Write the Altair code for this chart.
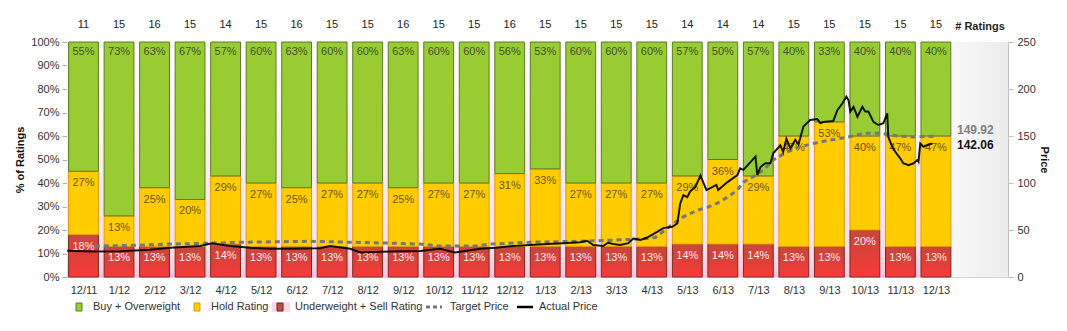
import altair as alt
import pandas as pd

# ---------------- data ----------------
months = ["12/11", "1/12", "2/12", "3/12", "4/12", "5/12", "6/12", "7/12", "8/12", "9/12",
          "10/12", "11/12", "12/12", "1/13", "2/13", "3/13", "4/13", "5/13", "6/13", "7/13",
          "8/13", "9/13", "10/13", "11/13", "12/13"]
n_ratings = [11, 15, 16, 15, 14, 15, 16, 15, 15, 16, 15, 15, 16, 15, 15, 15, 15, 14, 14, 14, 15, 15, 15, 15, 15]
buy_pct = [55, 73, 63, 67, 57, 60, 63, 60, 60, 63, 60, 60, 56, 53, 60, 60, 60, 57, 50, 57, 40, 33, 40, 40, 40]
hold_pct = [27, 13, 25, 20, 29, 27, 25, 27, 27, 25, 27, 27, 31, 33, 27, 27, 27, 29, 36, 29, 47, 53, 40, 47, 47]
sell_pct = [18, 13, 13, 13, 14, 13, 13, 13, 13, 13, 13, 13, 13, 13, 13, 13, 13, 14, 14, 14, 13, 13, 20, 13, 13]

# price series: position in months (0 = 12/11) and price
target_t = [0.32, 1.31, 2.44, 3.56, 4.41, 5.54, 6.38, 7.51, 8.63, 9.48, 10.04, 11.03, 11.45, 12.58,
            13.99, 15.11, 15.68, 16.10, 16.58, 16.89, 17.28, 17.56, 17.93, 18.21, 18.41, 18.58,
            18.86, 19.14, 19.42, 19.81, 20.18, 20.55, 21.03, 21.50, 21.96, 22.44, 22.93, 23.37, 24.04]
target_p = [33, 33.5, 35, 36, 37, 37.5, 38, 37, 36, 35, 33, 33, 35, 37,
            38, 39.5, 40.5, 42, 56, 64, 71, 74, 80, 87, 92.5, 101,
            106.7, 113.8, 124.5, 133, 138.6, 142, 145.7, 148.6, 152.8, 152.8, 150, 149, 149.92]

actual_t = [-0.46, 0.27, 1.03, 1.87, 2.44, 3.28, 3.62, 4.13, 4.69, 5.25, 5.82, 6.66, 6.94, 7.51,
            7.79, 8.63, 9.48, 10.04, 10.46, 11.17, 11.62, 12.10, 12.58, 13.06, 13.51, 13.99,
            14.18, 14.35, 14.63, 14.77, 14.92, 15.11, 15.34, 15.48, 15.68, 15.87, 16.15, 16.32,
            16.58, 16.72, 16.80, 16.89, 17.00, 17.08, 17.23, 17.37, 17.54, 17.82, 17.87, 18.13,
            18.41, 18.49, 18.58, 18.92, 18.97, 19.06, 19.20, 19.34, 19.42, 19.62, 19.70, 19.79,
            19.90, 20.04, 20.13, 20.27, 20.46, 20.66, 20.75, 20.83, 21.11, 21.23, 21.37, 21.48,
            21.54, 21.59, 21.68, 21.79, 21.93, 22.01, 22.10, 22.24, 22.38, 22.52, 22.63, 22.66,
            22.77, 22.86, 23.00, 23.08, 23.23, 23.37, 23.48, 23.51, 23.56, 23.65, 23.76, 23.90]
actual_p = [28, 27, 27.5, 29, 31, 33, 36, 33, 31, 30, 30, 30.5, 33, 30,
            26, 27, 27.7, 30, 26, 30, 31, 33, 34, 35, 36, 37,
            38.6, 34, 33, 36.5, 35, 34, 36, 41, 39.5, 42, 48, 52,
            53.5, 57, 78, 87, 85, 91, 96, 108, 92.5, 98, 92.5, 101,
            108.5, 115.6, 114, 128, 108.5, 117, 121, 121, 131.6, 140, 133, 147,
            137, 146, 141, 160, 167, 168, 163.5, 165, 166, 177.7, 184.8, 191.8,
            188, 176, 181, 170.5, 181, 176, 176, 165, 161.7, 163.5, 174, 149,
            138.6, 133, 126, 121, 119, 121, 124.5, 122.7, 142, 138.6, 140.4, 142.06]

last_target = "149.92"
last_actual = "142.06"

# ---------------- layout constants ----------------
W, H = 941, 235
X_DOM = [-0.465, 26.03]
HALF = 0.42
FONT = "Liberation Sans"

xs = alt.Scale(domain=X_DOM, nice=False, zero=False)
ys = alt.Scale(domain=[0, 100], nice=False)
ps = alt.Scale(domain=[0, 250], nice=False)

lab_expr = "[" + ",".join(f"'{m}'" for m in months) + "][datum.value]"

X_AXIS = alt.Axis(
    values=list(range(len(months))), labelExpr=lab_expr, title=None, ticks=False,
    domainColor="#f6c2dc", domainWidth=1, labelFont=FONT, labelFontSize=11,
    labelColor="#333333", labelPadding=7, grid=False, labelFlush=False, labelOverlap=False)
Y_AXIS = alt.Axis(
    values=list(range(0, 101, 10)), labelExpr="datum.value + '%'", domain=False,
    tickColor="#b0b0b0", tickSize=5, labelPadding=3, grid=False, labelFont=FONT,
    labelFontSize=11, labelColor="#333333", title="% of Ratings", titleFont=FONT,
    titleFontSize=11, titleFontWeight="bold", titleColor="#111111", titleAngle=-90,
    titleX=-47, titleY=H / 2, titleBaseline="middle", titleAlign="center")
P_AXIS = alt.Axis(
    orient="right", values=[0, 50, 100, 150, 200, 250], domainColor="#c0c0c0",
    tickColor="#c0c0c0", tickSize=5, labelPadding=4, grid=False, labelFont=FONT,
    labelFontSize=11, labelColor="#333333", title="Price", titleFont=FONT,
    titleFontSize=11, titleFontWeight="bold", titleColor="#111111", titleAngle=90,
    titleX=35, titleY=H / 2, titleBaseline="middle", titleAlign="center")

rows = []
for i, m in enumerate(months):
    s, h, b = sell_pct[i], hold_pct[i], buy_pct[i]
    rows.append(dict(i=i, seg="sell", y0=0, y1=s, lab=f"{s}%", x0=i - HALF, x1=i + HALF))
    rows.append(dict(i=i, seg="hold", y0=s, y1=s + h, lab=f"{h}%", x0=i - HALF, x1=i + HALF))
    rows.append(dict(i=i, seg="buy", y0=s + h, y1=100, lab=f"{b}%", x0=i - HALF, x1=i + HALF))
bars = pd.DataFrame(rows)
counts = pd.DataFrame({"i": list(range(len(months))), "n": n_ratings})
tgt = pd.DataFrame({"t": target_t, "p": target_p})
act = pd.DataFrame({"t": actual_t, "p": actual_p})
one = pd.DataFrame({"a": [0]})


def vgrad(stops, horizontal=False):
    return alt.LinearGradient(
        gradient="linear",
        stops=[alt.GradientStop(color=c, offset=o) for o, c in stops],
        x1=0, y1=0, x2=1 if horizontal else 0, y2=0 if horizontal else 1)


def vrect(x0, x1, y0, y1, **mk):
    return alt.Chart(one).mark_rect(**mk).encode(
        x=alt.value(x0), x2=alt.value(x1), y=alt.value(y0), y2=alt.value(y1))


def vtext(x, y, txt, **mk):
    return alt.Chart(one).mark_text(**mk).encode(x=alt.value(x), y=alt.value(y), text=alt.value(txt))


GRAY_X = 885  # start of grey end panel (pixels)

bg_pink = vrect(0, GRAY_X, 0, H, fill=vgrad([(0, "#ffffff"), (0.45, "#fdf0f2"), (0.85, "#fde2ea"), (1, "#ffc6e2")]))
bg_gray = vrect(GRAY_X, W, 0, H, fill=vgrad([(0, "#f8f8f8"), (1, "#ececec")], horizontal=True))


def seg_bars(seg, fill, stroke):
    return alt.Chart(bars).transform_filter(alt.datum.seg == seg).mark_rect(
        fill=fill, stroke=stroke, strokeWidth=1).encode(
        x=alt.X("x0:Q", scale=xs, axis=X_AXIS),
        x2="x1:Q",
        y=alt.Y("y0:Q", scale=ys, axis=Y_AXIS),
        y2="y1:Q")


red_bars = seg_bars("sell", vgrad([(0, "#c9473b"), (0.45, "#dc4038"), (1, "#f83a3a")]), "#7a2a1e")
yel_bars = seg_bars("hold", "#ffcc00", "#e39a10")
grn_bars = seg_bars("buy", "#99cc33", "#5e7a24")


def seg_labels(seg, color, dy):
    return alt.Chart(bars).transform_filter(alt.datum.seg == seg).mark_text(
        font=FONT, fontSize=11, color=color, baseline="middle", dy=dy).encode(
        x=alt.X("i:Q", scale=xs, axis=X_AXIS),
        y=alt.Y("y1:Q", scale=ys, axis=Y_AXIS),
        text="lab:N")


lab_sell = seg_labels("sell", "#ffe8f2", 12)
lab_hold = seg_labels("hold", "#6e5410", 12)
lab_buy = seg_labels("buy", "#43502a", 10)

count_text = alt.Chart(counts).mark_text(
    font=FONT, fontSize=11, color="#222222", baseline="middle").encode(
    x=alt.X("i:Q", scale=xs, axis=X_AXIS), y=alt.value(-17), text="n:Q")
ratings_title = vtext(913, -15, "# Ratings", font=FONT, fontSize=11, fontWeight="bold",
                      color="#222222", baseline="middle", align="center")

LY = 265
legend = [
    vrect(9, 15, LY - 4, LY + 4, fill="#99cc33", stroke="#5e7a24"),
    vtext(26, LY, "Buy + Overweight", font=FONT, fontSize=11, color="#333333", align="left", baseline="middle"),
    vrect(127, 133, LY - 4, LY + 4, fill="#ffcc00", stroke="#d39a10"),
    vtext(144, LY, "Hold Rating", font=FONT, fontSize=11, color="#333333", align="left", baseline="middle"),
    vrect(205, 223, LY - 5, LY + 5, fill="#ffd6ea"),
    vrect(210, 216, LY - 4, LY + 4, fill="#c0503c", stroke="#6a2a1e"),
    vtext(228, LY, "Underweight + Sell Rating", font=FONT, fontSize=11, color="#333333", align="left", baseline="middle"),
    alt.Chart(one).mark_rule(color="#777777", strokeWidth=3, strokeDash=[4, 3]).encode(
        x=alt.value(359), x2=alt.value(375), y=alt.value(LY)),
    vtext(383, LY, "Target Price", font=FONT, fontSize=11, color="#333333", align="left", baseline="middle"),
    alt.Chart(one).mark_rule(color="#000000", strokeWidth=2.5).encode(
        x=alt.value(450), x2=alt.value(466), y=alt.value(LY)),
    vtext(472, LY, "Actual Price", font=FONT, fontSize=11, color="#333333", align="left", baseline="middle"),
]

pct_group = alt.layer(bg_pink, bg_gray, red_bars, yel_bars, grn_bars,
                      lab_sell, lab_hold, lab_buy, count_text, ratings_title, *legend)

target_line = alt.Chart(tgt).mark_line(color="#777777", strokeWidth=3, strokeDash=[5, 4]).encode(
    x=alt.X("t:Q", scale=xs, axis=X_AXIS),
    y=alt.Y("p:Q", scale=ps, axis=P_AXIS))
actual_line = alt.Chart(act).mark_line(color="#000000", strokeWidth=2, opacity=0.9).encode(
    x=alt.X("t:Q", scale=xs, axis=X_AXIS),
    y=alt.Y("p:Q", scale=ps, axis=P_AXIS))
end_vals = pd.DataFrame({"v": [float(last_target), float(last_actual)],
                         "s": [last_target, last_actual]})
end_t = alt.Chart(end_vals).transform_filter(alt.datum.s == last_target).mark_text(
    font=FONT, fontSize=12, fontWeight="bold", color="#808080", align="left", baseline="middle", dy=-6).encode(
    x=alt.value(890), y=alt.Y("v:Q", scale=ps, axis=P_AXIS), text="s:N")
end_a = alt.Chart(end_vals).transform_filter(alt.datum.s == last_actual).mark_text(
    font=FONT, fontSize=12, fontWeight="bold", color="#111111", align="left", baseline="middle", dy=2).encode(
    x=alt.value(890), y=alt.Y("v:Q", scale=ps, axis=P_AXIS), text="s:N")

price_group = alt.layer(target_line, actual_line, end_t, end_a)

chart = alt.layer(pct_group, price_group).resolve_scale(y="independent").properties(
    width=W, height=H,
    autosize=alt.AutoSizeParams(type="none"),
    padding={"left": 67, "top": 42, "right": 59, "bottom": 54},
    background="#ffffff",
).configure_view(stroke=None)

chart.save("out.html", embed_options={"renderer": "svg", "actions": False})
